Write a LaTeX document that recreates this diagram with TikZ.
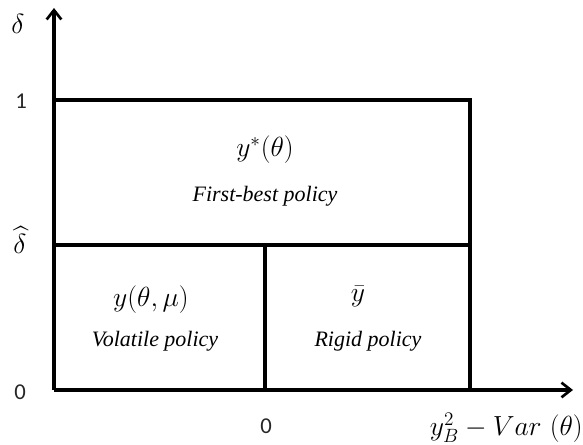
\documentclass[tikz,border=0pt]{standalone}
\usepackage{fontspec}
\usepackage{amsmath}
\newfontfamily\numfont{Carlito}
\newfontfamily\descfont{Liberation Serif}
\usetikzlibrary{arrows.meta}
\begin{document}
\begin{tikzpicture}[x=0.75pt,y=-0.75pt,
  frame/.style={line width=2.6pt,line cap=rect},
  axis/.style={line width=2.6pt,-{Straight Barb[length=7pt,width=11pt,line width=2pt]}},
  tick/.style={font=\numfont\fontsize{17}{20}\selectfont,text=black!85},
  mathlbl/.style={font=\fontsize{20}{24}\selectfont},
  desc/.style={font=\descfont\itshape\fontsize{16.5}{19}\selectfont}]
\useasboundingbox (0,0) rectangle (583,445);
% corners of the regions
\coordinate (O) at (54,390);
\coordinate (ytop) at (54,8);
\coordinate (xend) at (573,390);
\coordinate (top left) at (54,100);
\coordinate (top right) at (470,100);
\coordinate (mid left) at (54,245);
\coordinate (mid right) at (470,245);
\coordinate (mid split) at (265,245);
\coordinate (bottom split) at (265,390);
\coordinate (bottom right) at (470,390);
% axes
\draw[axis] (O) -- (ytop);
\draw[axis] (O) -- (xend);
% region boundaries
\draw[frame] (top left) -- (top right) -- (bottom right);
\draw[frame] (mid left) -- (mid right);
\draw[frame] (mid split) -- (bottom split);
% axis labels
\node[mathlbl] (delta) at (18,24) {$\delta$};
\node[tick] (one) at (21,101) {1};
\node[mathlbl,inner sep=0pt] (deltahat) at (20,240) {$\widehat{\delta}$};
\node[tick] (zero y) at (20,392) {0};
\node[tick] (zero x) at (266,426) {0};
\node[mathlbl,anchor=east,inner sep=0pt] (xlabel) at (583,428) {$y_B^2 - Var\ (\theta)$};
% region labels
\node[mathlbl] (first) at (265,150) {$y^{*}(\theta)$};
\node[desc] (first txt) at (265,196) {First-best policy};
\node[mathlbl] (vol) at (151,300) {$y(\theta,\mu)$};
\node[desc] (vol txt) at (155,341) {Volatile policy};
\node[mathlbl] (rigid) at (358,296) {$\bar{y}$};
\node[desc] (rigid txt) at (368,341) {Rigid policy};
\end{tikzpicture}
\end{document}
